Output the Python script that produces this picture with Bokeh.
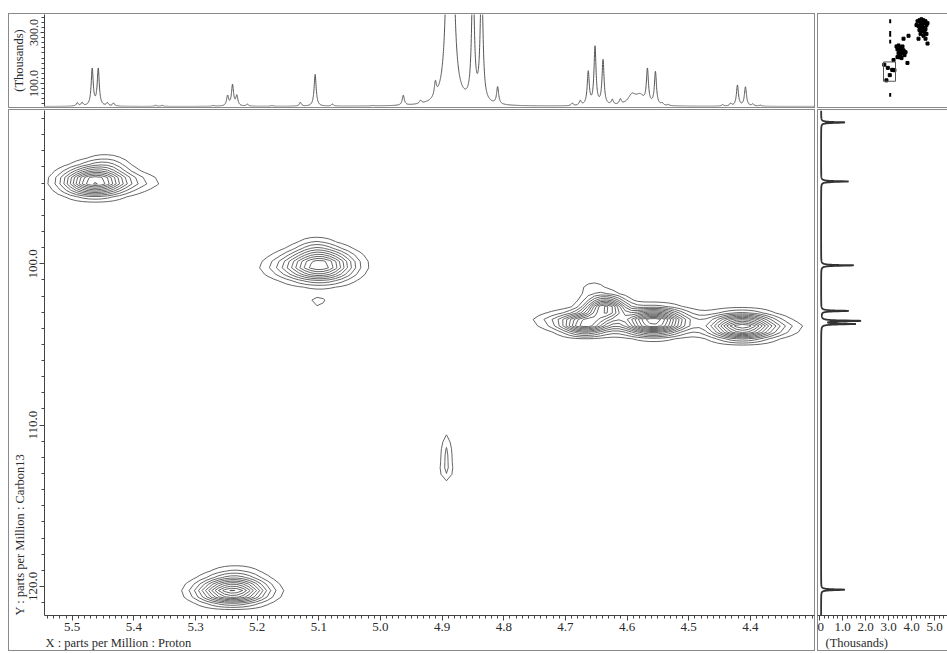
import numpy as np
from bokeh.plotting import figure
from bokeh.layouts import column, row
from bokeh.models import Range1d, FixedTicker, PrintfTickFormatter, Title
from bokeh.embed import file_html
from bokeh.resources import INLINE

FONT = "Liberation Serif"
INK = "#444444"
TEXT = "#2a2a2a"
CELL = "#8a8a8a"

# ---- plotted window (ppm) ----
X_LEFT, X_RIGHT = 5.545, 4.296          # 1H, reversed
Y_TOP, Y_BOTTOM = 90.5, 121.8           # 13C, reversed

# ---- 1H projection: peak list (ppm, height in thousands, half-width) ----
h_ppm = [5.492, 5.484, 5.4676, 5.4578, 5.443, 5.433, 5.365, 5.354, 5.271,
         5.248, 5.240, 5.233, 5.216, 5.176, 5.130, 5.106, 5.078, 5.012,
         4.963, 4.935, 4.911, 4.887, 4.850, 4.836, 4.810, 4.689, 4.676,
         4.663, 4.652, 4.639, 4.624, 4.611, 4.592, 4.579, 4.567, 4.554,
         4.543, 4.533, 4.445, 4.432, 4.421, 4.408, 4.396, 4.384]
h_height = [13, 13, 145, 145, 12, 12, 4, 4, 3,
            39, 82, 39, 8, 3, 15, 125, 8, 2,
            39, 12, 55, 3431, 509, 509, 67, 10, 18,
            130, 228, 176, 20, 20, 40, 35, 133, 129,
            8, 4, 6, 10, 82, 75, 8, 4]
h_hwhm = ([0.002] * 21 + [0.0028, 0.0025, 0.0025] + [0.002] * 8
          + [0.008, 0.008] + [0.002] * 10)
H_BASE = 10

# ---- 13C projection: peak list (ppm, height in thousands) ----
c_ppm = [91.24, 94.9, 100.1, 102.92, 103.54, 103.73, 120.2]
c_height = [1.04, 1.2, 1.43, 1.2, 1.7, 1.48, 1.04]
C_HWHM = 0.03
C_BASE = 0.07

# ---- 2D cross-peak components (1H ppm, 13C ppm, widths, amplitude) ----
cp_x = [5.463, 5.392, 5.445,
        5.098, 5.160, 5.105, 5.101,
        4.635, 4.668, 4.557, 4.413, 4.570, 4.655, 4.720, 4.350,
        4.893, 4.893,
        5.240, 5.235]
cp_y = [94.9, 94.95, 93.8,
        100.1, 100.2, 98.9, 102.4,
        102.75, 103.72, 103.6, 103.9, 103.6, 101.5, 103.5, 103.95,
        111.9, 112.9,
        120.3, 119.3]
cp_sx = [0.034, 0.030, 0.025,
         0.036, 0.030, 0.020, 0.012,
         0.022, 0.026, 0.033, 0.034, 0.100, 0.020, 0.025, 0.030,
         0.007, 0.010,
         0.037, 0.030]
cp_sy = [0.55, 0.40, 0.40,
         0.65, 0.50, 0.40, 0.22,
         0.45, 0.42, 0.50, 0.50, 0.50, 0.45, 0.35, 0.35,
         1.00, 0.40,
         0.50, 0.45]
cp_amp = [12.5, 1.6, 2.0,
          11.0, 1.5, 1.5, 1.8,
          11.0, 10.0, 13.0, 12.5, 1.5, 1.3, 1.6, 1.5,
          2.3, 0.8,
          12.0, 2.0]
contour_levels = list(range(1, 17))

# ---- overview map (whole spectrum, ppm) ----
ov_x = [2.00, 1.80, 1.59, 1.38, 1.17, 1.69, 1.48, 1.27, 1.07, 1.90, 1.59, 1.38,
        1.17, 1.80, 1.48, 1.27, 2.11, 0.96, 1.69, 1.38, 1.07, 1.90, 1.17, 0.96,
        4.19, 3.98, 3.77, 3.57, 4.09, 3.88, 3.67, 3.46, 3.98, 3.77, 3.57, 3.36,
        3.88, 3.67, 3.46, 3.25, 3.46, 2.94, 3.05, 4.09, 4.50]
ov_y = [24.6, 23.0, 21.4, 23.0, 24.6, 27.7, 29.3, 27.7, 30.8, 32.4, 34.0, 35.6,
        37.1, 38.7, 40.3, 41.8, 30.8, 27.7, 45.0, 48.1, 45.0, 52.8, 52.8, 60.7,
        65.4, 63.8, 66.9, 65.4, 70.1, 71.7, 70.1, 73.2, 76.4, 78.0, 76.4, 79.5,
        82.7, 84.2, 71.7, 74.8, 52.8, 48.1, 92.1, 82.7, 87.4]
ov_peak_x = [5.463, 5.098, 4.640, 4.557, 4.413, 4.893, 5.240]
ov_peak_y = [94.9, 100.1, 103.2, 103.6, 103.9, 111.9, 120.3]
ov_streak_y0 = [21.4, 40.3, 54.4, 140.7]
ov_streak_y1 = [27.7, 49.7, 60.7, 147.0]
OV_STREAK_X = 4.85


def cell_style(right=True):
    shadows = ["inset 1px 0 0 0 " + CELL, "inset 0 1px 0 0 " + CELL,
               "inset 0 -1px 0 0 " + CELL]
    if right:
        shadows.append("inset -1px 0 0 0 " + CELL)
    return {"box-shadow": ", ".join(shadows)}


def base_fig(**kw):
    p = figure(output_backend="svg", toolbar_location=None, **kw)
    p.border_fill_color = None
    p.background_fill_color = None
    p.outline_line_color = None
    p.grid.visible = False
    return p


def style_axis(ax):
    ax.axis_line_color = INK
    ax.major_tick_line_color = INK
    ax.minor_tick_line_color = INK
    ax.major_tick_in = 0
    ax.major_tick_out = 5
    ax.minor_tick_in = 0
    ax.minor_tick_out = 3
    ax.major_label_text_font = FONT
    ax.major_label_text_font_size = "13px"
    ax.major_label_text_color = TEXT
    ax.major_label_standoff = 2
    ax.axis_label_text_font = FONT
    ax.axis_label_text_font_size = "12.5px"
    ax.axis_label_text_font_style = "normal"
    ax.axis_label_text_color = TEXT


def side_title(text, offset=0):
    return Title(text=text, align="left", offset=offset, standoff=0,
                 text_font=FONT, text_font_size="12.5px",
                 text_font_style="normal", text_color=TEXT)


x_range = Range1d(X_LEFT, X_RIGHT)
y_range = Range1d(Y_BOTTOM, Y_TOP)

# ---------------- 1H projection (top) ----------------
top = base_fig(width=807, height=95, x_range=x_range, y_range=Range1d(10, 371),
               min_border_left=36, min_border_right=1, min_border_top=1,
               min_border_bottom=2, x_axis_location=None)
top.styles = cell_style()
hx = np.linspace(X_RIGHT, X_LEFT, 6000)
hy = np.full_like(hx, H_BASE, dtype=float)
for pos, hgt, g in zip(h_ppm, h_height, h_hwhm):
    hy += hgt * g * g / ((hx - pos) ** 2 + g * g)
top.line(hx, hy, line_color="#555555", line_width=1)
style_axis(top.yaxis[0])
top.yaxis.ticker = FixedTicker(ticks=[100, 300], minor_ticks=list(range(0, 380, 20)))
top.yaxis.formatter = PrintfTickFormatter(format="%.1f")
top.yaxis.major_label_orientation = "vertical"
top.yaxis.major_label_text_font_size = "12px"
top.yaxis.major_tick_out = 4
top.yaxis.axis_label = "(Thousands)"
top.yaxis.axis_label_standoff = 2

# ---------------- overview map (top right) ----------------
ov = base_fig(width=130, height=95, x_range=Range1d(12.42, -1.12),
              y_range=Range1d(162.7, 13.6), min_border_left=0, min_border_right=0,
              min_border_top=0, min_border_bottom=0,
              x_axis_location=None, y_axis_location=None)
ov.styles = cell_style(right=False)
ov.square(ov_x, ov_y, size=3, color="black")
ov.square(ov_peak_x, ov_peak_y, size=3, color="black")
ov.segment(x0=[OV_STREAK_X] * len(ov_streak_y0), y0=ov_streak_y0,
           x1=[OV_STREAK_X] * len(ov_streak_y1), y1=ov_streak_y1,
           line_color="black", line_width=2)
ov.quad(left=[X_LEFT], right=[X_RIGHT], top=[Y_TOP], bottom=[Y_BOTTOM],
        fill_color=None, line_color="#555555", line_width=1)

# ---------------- 2D contour map ----------------
main = base_fig(width=807, height=542, x_range=x_range, y_range=y_range,
                min_border_left=36, min_border_right=1, min_border_top=1,
                min_border_bottom=36)
main.styles = cell_style()
# digital resolution of the processed 2D data matrix
gx = np.arange(4.283, 5.56, 0.01)
gy = np.arange(89.85, 122.6, 0.4)
GX, GY = np.meshgrid(gx, gy)
Z = np.zeros_like(GX)
for x0, y0, sx, sy, a in zip(cp_x, cp_y, cp_sx, cp_sy, cp_amp):
    Z += a * np.exp(-0.5 * ((GX - x0) / sx) ** 2 - 0.5 * ((GY - y0) / sy) ** 2)
main.contour(gx, gy, Z, contour_levels, line_color="#4a4a4a", line_width=0.85)

style_axis(main.xaxis[0])
style_axis(main.yaxis[0])
main.xaxis.ticker = FixedTicker(ticks=[round(4.4 + 0.1 * i, 1) for i in range(12)],
                                minor_ticks=[round(4.30 + 0.01 * i, 2) for i in range(125)])
main.xaxis.formatter = PrintfTickFormatter(format="%.1f")
main.yaxis.ticker = FixedTicker(ticks=[100, 110, 120],
                                minor_ticks=list(range(91, 122)))
main.yaxis.formatter = PrintfTickFormatter(format="%.1f")
main.yaxis.major_label_orientation = "vertical"
main.add_layout(side_title("X : parts per Million : Proton", offset=1), "below")
main.add_layout(side_title("Y : parts per Million : Carbon13"), "left")

# ---------------- 13C projection (right) ----------------
side = base_fig(width=130, height=542, x_range=Range1d(-0.087, 5.565), y_range=y_range,
                min_border_left=0, min_border_right=0, min_border_top=1,
                min_border_bottom=36, y_axis_location=None)
side.styles = cell_style(right=False)
cy = np.linspace(Y_TOP, Y_BOTTOM, 4000)
cxv = np.full_like(cy, C_BASE, dtype=float)
for pos, hgt in zip(c_ppm, c_height):
    cxv += hgt * C_HWHM ** 2 / ((cy - pos) ** 2 + C_HWHM ** 2)
side.line(cxv, cy, line_color="#333333", line_width=1.8)
style_axis(side.xaxis[0])
side.xaxis.ticker = FixedTicker(ticks=[0, 1, 2, 3, 4, 5],
                                minor_ticks=[round(0.2 * i, 1) for i in range(28)])
side.xaxis.major_label_overrides = {0: "0", 1: "1.0", 2: "2.0", 3: "3.0", 4: "4.0", 5: "5.0"}
side.add_layout(side_title("(Thousands)", offset=8), "below")

layout = column(row(top, ov, spacing=2), row(main, side, spacing=2),
                spacing=1, margin=(13, 0, 0, 8))

open("out.html", "w").write(file_html(layout, INLINE))
